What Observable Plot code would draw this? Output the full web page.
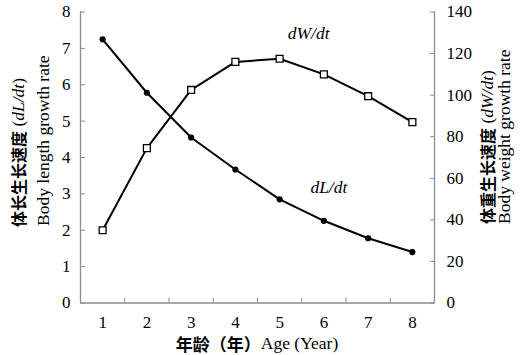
<!DOCTYPE html>
<html><head><meta charset="utf-8">
<script src="https://cdn.jsdelivr.net/npm/d3@7"></script>
<script src="https://cdn.jsdelivr.net/npm/@observablehq/plot@0.6"></script>
<style>body{margin:0;background:#fff}</style>
</head><body><div id="chart"></div>
<script>
const ages = [1, 2, 3, 4, 5, 6, 7, 8];
const dLdt = [7.25, 5.78, 4.55, 3.67, 2.85, 2.26, 1.78, 1.40];
const dWdt = [35, 74.5, 102.5, 116, 117.5, 110, 99.5, 87];
const leftTicks = [0, 1, 2, 3, 4, 5, 6, 7, 8];
const rightTicks = [0, 20, 40, 60, 80, 100, 120, 140];
const leftMax = 8, rightMax = 140;
const ratio = rightMax / leftMax;

const dL = ages.map((a, i) => ({age: a, v: dLdt[i]}));
const dW = ages.map((a, i) => ({age: a, v: dWdt[i] / ratio}));
const bounds = [...ages.map(a => a - 0.5), ages[ages.length - 1] + 0.5];
const rightPos = rightTicks.map(t => t / ratio);

const serif = '"Liberation Serif","Times New Roman",serif';
const cjk = '"Noto Sans CJK SC",sans-serif';
const gray = "#8c8c8c";

const plot = Plot.plot({
  width: 520, height: 355,
  marginLeft: 80, marginRight: 86, marginTop: 11.5, marginBottom: 52.5,
  style: {fontFamily: serif, fontSize: "17px", color: "#000", background: "#fff"},
  x: {type: "linear", domain: [bounds[0], bounds[bounds.length - 1]], label: null},
  y: {domain: [0, leftMax], label: null},
  marks: [
    Plot.ruleX([bounds[0], bounds[bounds.length - 1]], {stroke: gray, strokeWidth: 1.3}),
    Plot.ruleY([0], {stroke: gray, strokeWidth: 1.3}),
    Plot.axisX(bounds, {tickSize: -5, tickFormat: () => "", stroke: gray, label: null}),
    Plot.axisX(ages, {tickSize: 0, tickPadding: 13, label: null}),
    Plot.axisY(leftTicks, {tickSize: -5, tickFormat: () => "", stroke: gray, label: null}),
    Plot.axisY(leftTicks, {tickSize: 0, tickPadding: 10, label: null}),
    Plot.axisY(rightPos, {anchor: "right", tickSize: -5, tickFormat: () => "", stroke: gray, label: null}),
    Plot.axisY(rightPos, {anchor: "right", tickSize: 0, tickPadding: 12, tickFormat: d => Math.round(d * ratio), label: null}),
    Plot.line(dW, {x: "age", y: "v", stroke: "#000", strokeWidth: 2}),
    Plot.line(dL, {x: "age", y: "v", stroke: "#000", strokeWidth: 2}),
    Plot.dot(dL, {x: "age", y: "v", r: 3.1, fill: "#000"}),
    Plot.dot(dW, {x: "age", y: "v", symbol: "square", r: 3.9, fill: "#fff", stroke: "#000", strokeWidth: 1.3}),
    Plot.text(dW, {filter: d => d.age === 5, x: "age", y: "v", text: () => "dW/dt", dx: 29, dy: -25, fontStyle: "italic", fontSize: 17.5}),
    Plot.text(dL, {filter: d => d.age === 6, x: "age", y: "v", text: () => "dL/dt", dx: 5, dy: -33, fontStyle: "italic", fontSize: 17.5})
  ]
});

const svg = d3.select(plot);
function title(x, y, rotate, anchor, parts) {
  const t = svg.append("text")
    .attr("transform", `translate(${x},${y})` + (rotate ? ` rotate(${rotate})` : ""))
    .attr("text-anchor", anchor)
    .attr("dominant-baseline", "central")
    .attr("fill", "#000");
  for (const p of parts) {
    const s = t.append("tspan").text(p.t)
      .attr("font-family", p.cjk ? cjk : serif)
      .attr("font-size", p.s || 17.5);
    if (p.cjk) s.attr("font-weight", "bold");
    if (p.i) s.attr("font-style", "italic");
  }
}
title(18, 227, -90, "start", [{t: "体长生长速度", cjk: true, s: 16}, {t: " ("}, {t: "dL/dt", i: true}, {t: ")"}]);
title(43, 226, -90, "start", [{t: "Body length growth rate"}]);
title(487, 224, -90, "start", [{t: "体重生长速度", cjk: true, s: 16}, {t: " ("}, {t: "dW/dt", i: true}, {t: ")"}]);
title(504, 224, -90, "start", [{t: "Body weight growth rate"}]);
title(257, 343, 0, "middle", [{t: "年龄（年）", cjk: true, s: 17}, {t: "Age (Year)"}]);

document.getElementById("chart").append(plot);
</script>
</body></html>
